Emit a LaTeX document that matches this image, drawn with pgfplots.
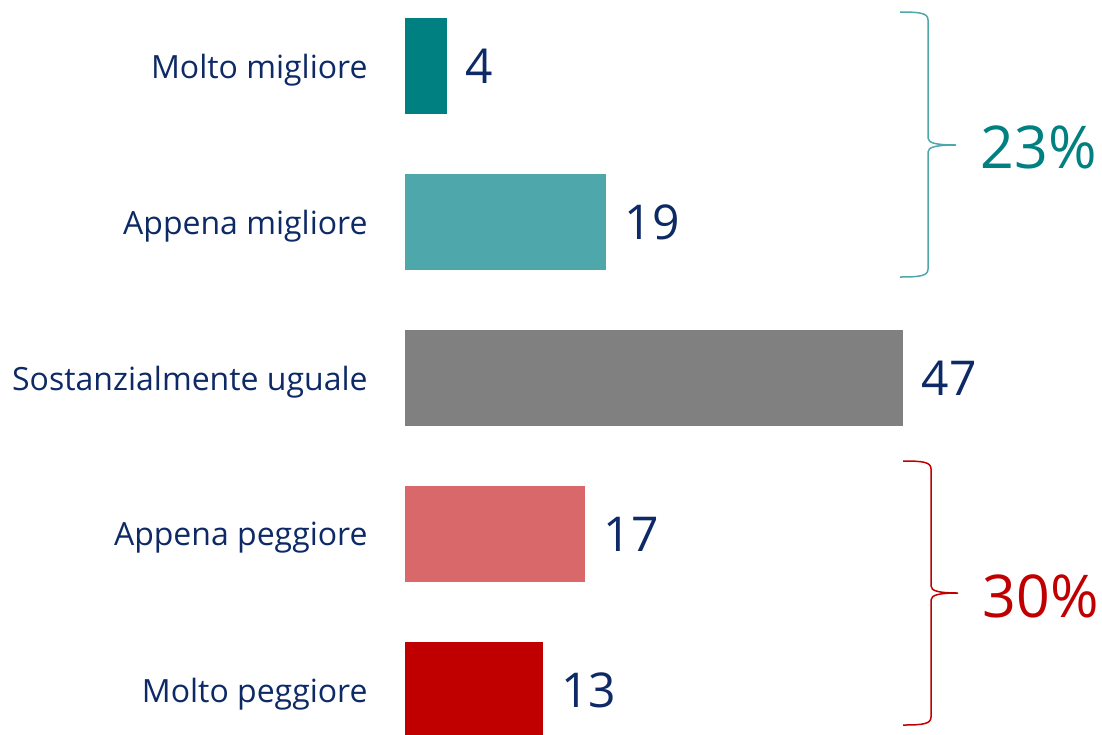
\documentclass[border=0pt]{standalone}
\usepackage{pgfplots}
\pgfplotsset{compat=1.18}
\usepackage{fontspec}
\setmainfont{Open Sans}
\definecolor{navy}{HTML}{0E2A66}
\definecolor{tealD}{HTML}{008080}
\definecolor{tealL}{HTML}{4EA7AB}
\definecolor{grayB}{HTML}{808080}
\definecolor{redL}{HTML}{D86869}
\definecolor{redD}{HTML}{C00000}
\begin{document}
\begin{tikzpicture}
% 1 px of the reference = 0.5pt; origin at the top left corner
\begin{axis}[
  at={(202.5pt,0pt)}, anchor=north west,
  scale only axis, width=348.5pt, height=367pt,
  xbar, bar width=0.615, bar shift=0pt,
  xmin=0, xmax=65.75,
  ymin=-0.423, ymax=4.282, y dir=reverse,
  axis line style={draw=none},
  major tick length=0pt,
  xtick=\empty,
  ytick={0,1,2,3,4},
  yticklabels={Molto migliore, Appena migliore\hspace{4pt}, Sostanzialmente uguale, Appena peggiore, Molto peggiore},
  yticklabel style={font=\fontsize{16}{18}\selectfont, text=navy, inner sep=0pt, xshift=-18.5pt, yshift=-2pt},
  /pgf/number format/assume math mode=true,
  nodes near coords,
  every node near coord/.append style={font=\fontsize{24}{26}\selectfont, text=navy, anchor=west, inner sep=0pt, xshift=9pt},
]
\addplot[fill=tealD, draw=none] coordinates {(4,0)};
\addplot[fill=tealL, draw=none] coordinates {(19,1)};
\addplot[fill=grayB, draw=none] coordinates {(47,2)};
\addplot[fill=redL, draw=none] coordinates {(17,3)};
\addplot[fill=redD, draw=none] coordinates {(13,4)};
\end{axis}
\begin{scope}[x=0.5pt, y=-0.5pt, line width=0.75pt]
  \draw[tealL] (900,12) .. controls (920,12) and (928,13) .. (928,20)
     -- (928,138) .. controls (928,143) and (936,145) .. (956,145)
     .. controls (936,145) and (928,147) .. (928,152)
     -- (928,269) .. controls (928,276) and (920,277) .. (900,277);
  \draw[redD] (903,461) .. controls (923,461) and (931,462) .. (931,469)
     -- (931,586) .. controls (931,591) and (939,593) .. (958,593)
     .. controls (939,593) and (931,595) .. (931,600)
     -- (931,717) .. controls (931,724) and (923,725) .. (903,725);
  \node[text=tealD, font=\fontsize{29.5}{31}\selectfont, inner sep=0pt] at (1039,147) {23\%};
  \node[text=redD, font=\fontsize{29.5}{31}\selectfont, inner sep=0pt] at (1041,596) {30\%};
\end{scope}
\pgfresetboundingbox
\useasboundingbox (0pt,0pt) rectangle (551pt,-367pt);
\end{tikzpicture}
\end{document}
